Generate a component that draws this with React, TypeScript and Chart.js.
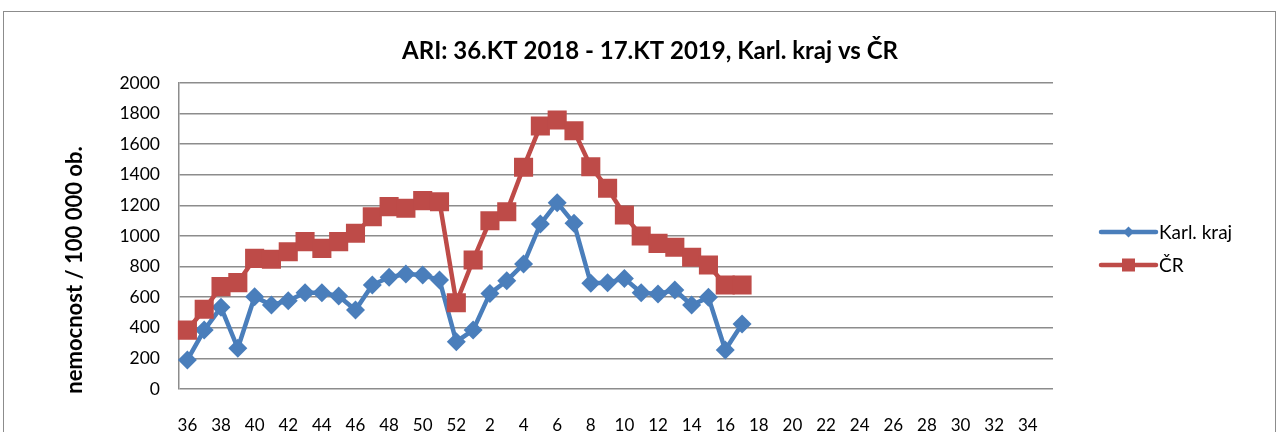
import { useEffect, useRef } from 'react';
import { Chart, registerables } from 'chart.js';

Chart.register(...registerables);

const weeks = [
  '36', '37', '38', '39', '40', '41', '42', '43', '44', '45', '46', '47', '48', '49', '50', '51', '52',
  '1', '2', '3', '4', '5', '6', '7', '8', '9', '10', '11', '12', '13', '14', '15', '16', '17',
  '18', '19', '20', '21', '22', '23', '24', '25', '26', '27', '28', '29', '30', '31', '32', '33', '34', '35',
];

const karlKraj = [
  190, 385, 534, 266, 603, 549, 577, 629, 629, 608, 516, 680, 730, 752, 745, 712, 309,
  385, 625, 708, 817, 1078, 1218, 1083, 691, 695, 723, 629, 621, 647, 549, 599, 255, 425,
];

const cr = [
  385, 521, 669, 695, 854, 848, 897, 963, 919, 963, 1018, 1126, 1192, 1181, 1231, 1224, 564,
  843, 1100, 1159, 1449, 1719, 1758, 1688, 1453, 1312, 1137, 1000, 952, 926, 861, 810, 680, 680,
];

const titleText = 'ARI: 36.KT 2018 - 17.KT 2019, Karl. kraj vs ČR';
const yAxisTitle = 'nemocnost / 100 000 ob.';
const seriesNames = ['Karl. kraj', 'ČR'];

const BLUE = '#4A7EBB';
const RED = '#BE4B48';
const FONT = 'Lato, "Open Sans", sans-serif';

const decorPlugin = {
  id: 'decor',
  beforeDraw(chart: any) {
    const ctx = chart.ctx;
    ctx.save();
    ctx.fillStyle = '#ffffff';
    ctx.fillRect(0, 0, chart.width, chart.height);
    ctx.strokeStyle = '#8c8c8c';
    ctx.lineWidth = 1;
    ctx.strokeRect(3.5, 11.5, 1272, 600);
    ctx.restore();
  },
  afterDraw(chart: any) {
    const ctx = chart.ctx;
    const area = chart.chartArea;
    ctx.save();
    // title
    ctx.fillStyle = '#000';
    ctx.font = `bold 24px ${FONT}`;
    ctx.textAlign = 'center';
    ctx.textBaseline = 'middle';
    ctx.fillText(titleText, 650, 51);
    // y axis title
    ctx.save();
    ctx.translate(75, 270);
    ctx.rotate(-Math.PI / 2);
    ctx.font = `bold 22px ${FONT}`;
    ctx.fillText(yAxisTitle, 0, 0);
    ctx.restore();
    // legend
    const items = [
      { name: seriesNames[0], color: BLUE, style: 'diamond' },
      { name: seriesNames[1], color: RED, style: 'square' },
    ];
    const lx0 = area.right + 48;
    const lx1 = lx0 + 55;
    items.forEach((it, i) => {
      const y = 232 + i * 33;
      ctx.strokeStyle = it.color;
      ctx.lineWidth = 4.5;
      ctx.lineCap = 'round';
      ctx.beginPath();
      ctx.moveTo(lx0, y);
      ctx.lineTo(lx1, y);
      ctx.stroke();
      ctx.fillStyle = it.color;
      const cx = (lx0 + lx1) / 2;
      if (it.style === 'diamond') {
        ctx.beginPath();
        ctx.moveTo(cx, y - 5.5);
        ctx.lineTo(cx + 5.5, y);
        ctx.lineTo(cx, y + 5.5);
        ctx.lineTo(cx - 5.5, y);
        ctx.closePath();
        ctx.fill();
      } else {
        ctx.fillRect(cx - 6.5, y - 6.5, 13, 13);
      }
      ctx.fillStyle = '#000';
      ctx.font = `19px ${FONT}`;
      ctx.textAlign = 'left';
      ctx.textBaseline = 'middle';
      ctx.fillText(it.name, lx1 + 3, y + 1);
    });
    ctx.restore();
  },
};

export default function App() {
  const canvasRef = useRef<HTMLCanvasElement | null>(null);

  useEffect(() => {
    document.body.style.margin = '0';
    const canvas = canvasRef.current;
    if (!canvas) return;
    const chart = new Chart(canvas, {
      type: 'line',
      data: {
        labels: weeks,
        datasets: [
          {
            label: seriesNames[0],
            data: karlKraj,
            borderColor: BLUE,
            backgroundColor: BLUE,
            borderWidth: 4.5,
            pointStyle: 'rectRot',
            pointRadius: 9.5,
            pointBorderWidth: 0,
            pointBackgroundColor: BLUE,
            tension: 0,
            order: 1,
          },
          {
            label: seriesNames[1],
            data: cr,
            borderColor: RED,
            backgroundColor: RED,
            borderWidth: 4.5,
            pointStyle: 'rect',
            pointRadius: 13.5,
            pointBorderWidth: 0,
            pointBackgroundColor: RED,
            tension: 0,
            order: 0,
          },
        ],
      },
      options: {
        responsive: false,
        animation: false,
        devicePixelRatio: 1,
        layout: { padding: { top: 83, left: 0, right: 226, bottom: 0 } },
        plugins: {
          legend: { display: false },
          title: { display: false },
          tooltip: { enabled: false },
        },
        scales: {
          x: {
            type: 'category',
            offset: true,
            grid: { display: false },
            border: { display: false },
            afterFit: (scale: any) => {
              scale.height = 43;
            },
            ticks: {
              autoSkip: false,
              maxRotation: 0,
              padding: 18,
              color: '#000',
              font: { family: FONT, size: 17 },
              callback: (_v: any, i: number) => (i % 2 === 0 ? weeks[i] : ''),
            },
          },
          y: {
            min: 0,
            max: 2000,
            afterFit: (scale: any) => {
              scale.width = 179;
            },
            ticks: {
              stepSize: 200,
              padding: 19,
              color: '#000',
              font: { family: FONT, size: 17.5 },
              callback: (v: any) => String(v),
            },
            grid: { color: '#8c8c8c', lineWidth: 1.5, drawTicks: false },
            border: { display: true, color: '#8c8c8c', width: 1.5 },
          },
        },
      },
      plugins: [decorPlugin],
    });
    return () => chart.destroy();
  }, []);

  return <canvas ref={canvasRef} width={1279} height={432} style={{ display: 'block' }} />;
}
